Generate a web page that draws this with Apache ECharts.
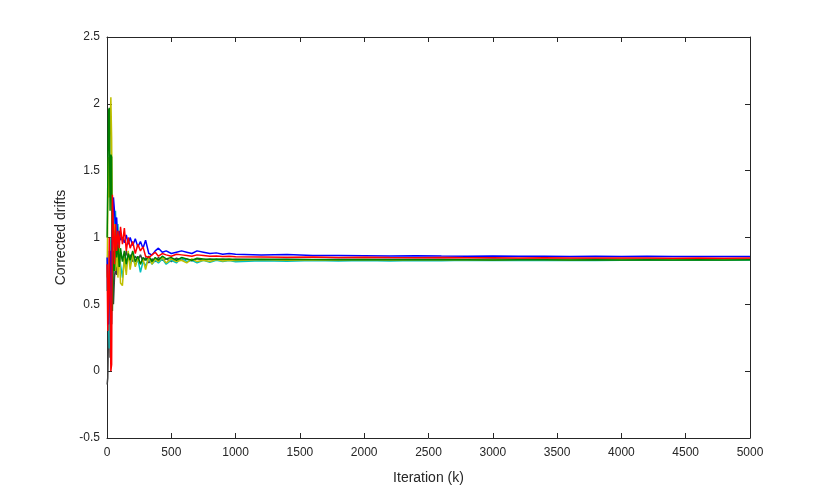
<!DOCTYPE html>
<html>
<head>
<meta charset="utf-8">
<script src="https://cdn.jsdelivr.net/npm/echarts@6/dist/echarts.min.js"></script>
<style>
  html, body { margin: 0; padding: 0; background: #fff; }
  #chart { width: 830px; height: 493px; }
</style>
</head>
<body>
<div id="chart"></div>
<script>
  // iteration index for every sampled point
  var iters = [1, 6, 12, 18, 24, 30, 36, 42, 50, 58, 66, 75, 85, 95, 105, 120, 135, 150, 165, 180,
    200, 220, 240, 260, 280, 300, 325, 350, 375, 400, 430, 460, 500, 540, 580, 620, 660, 700, 750, 800,
    850, 900, 950, 1000, 1200, 1400, 1600, 1800, 2000, 2200, 2400, 2600, 2800, 3000, 3200, 3400, 3600, 3800,
    4000, 4200, 4400, 4600, 4800, 5000]

  var grayDrift = [-0.1, -0.05, 0.3, 0.6, 0.1, 0.5, 0.35, 0.8, 0.5, 0.7, 0.78, 0.72, 0.85, 0.8, 0.88, 0.84, 0.82, 0.9, 0.84, 0.87,
    0.82, 0.86, 0.83, 0.87, 0.82, 0.85, 0.81, 0.84, 0.82, 0.85, 0.83, 0.84, 0.82, 0.845, 0.83, 0.84, 0.825, 0.84, 0.83, 0.84,
    0.832, 0.838, 0.83, 0.837, 0.833, 0.837, 0.834, 0.837, 0.835, 0.838, 0.836, 0.838, 0.836, 0.839, 0.837, 0.838, 0.837, 0.839,
    0.838, 0.837, 0.839, 0.838, 0.837, 0.838]

  var cyanDrift = [0.6, 0.9, 0.4, 0.17, 0.7, 1.0, 0.8, 1.1, 1.22, 1.05, 1.2, 0.95, 1.1, 0.85, 0.8, 0.7, 0.85, 0.78, 0.88, 0.8,
    0.86, 0.79, 0.84, 0.74, 0.82, 0.79, 0.84, 0.8, 0.83, 0.81, 0.84, 0.8, 0.83, 0.81, 0.85, 0.82, 0.83, 0.81, 0.83, 0.815,
    0.83, 0.82, 0.828, 0.818, 0.826, 0.822, 0.828, 0.825, 0.827, 0.824, 0.828, 0.826, 0.829, 0.827, 0.829, 0.828, 0.83, 0.828,
    0.83, 0.829, 0.83, 0.829, 0.831, 0.83]

  var yellowDrift = [0.7, 1.2, 1.6, 1.3, 1.8, 2.05, 1.75, 1.0, 0.8, 1.1, 0.75, 1.0, 0.7, 0.95, 0.66, 0.64, 0.85, 0.72, 0.9, 0.76,
    0.88, 0.78, 0.85, 0.8, 0.84, 0.76, 0.86, 0.8, 0.84, 0.82, 0.85, 0.81, 0.84, 0.82, 0.83, 0.81, 0.84, 0.82, 0.83, 0.82,
    0.835, 0.825, 0.83, 0.828, 0.835, 0.83, 0.834, 0.831, 0.835, 0.832, 0.834, 0.833, 0.836, 0.834, 0.835, 0.836, 0.834, 0.835,
    0.836, 0.835, 0.836, 0.835, 0.836, 0.836]

  var greenDrift = [1.0, 1.4, 1.95, 1.97, 1.2, 1.62, 1.6, 0.45, 0.9, 0.75, 1.05, 0.85, 0.95, 0.78, 0.92, 0.82, 0.9, 0.8, 0.88, 0.83,
    0.9, 0.82, 0.86, 0.8, 0.85, 0.83, 0.86, 0.82, 0.85, 0.83, 0.86, 0.84, 0.85, 0.83, 0.85, 0.84, 0.83, 0.845, 0.84, 0.835,
    0.84, 0.837, 0.84, 0.836, 0.838, 0.835, 0.836, 0.834, 0.836, 0.834, 0.835, 0.833, 0.834, 0.832, 0.834, 0.833, 0.832, 0.834,
    0.832, 0.833, 0.832, 0.833, 0.832, 0.833]

  var blueDrift = [0.85, 0.6, 0.35, 0.55, 0.9, 0.45, 0.8, 1.05, 1.3, 1.2, 1.1, 1.15, 0.95, 1.05, 0.98, 1.0, 0.96, 1.02, 0.95, 1.0,
    0.94, 0.99, 0.93, 0.97, 0.92, 0.98, 0.88, 0.87, 0.9, 0.92, 0.89, 0.9, 0.88, 0.89, 0.9, 0.89, 0.88, 0.9, 0.89, 0.88,
    0.885, 0.875, 0.88, 0.875, 0.87, 0.872, 0.866, 0.865, 0.864, 0.862, 0.863, 0.861, 0.86, 0.861, 0.859, 0.86, 0.858, 0.859,
    0.858, 0.859, 0.857, 0.858, 0.857, 0.858]

  var redDrift = [0.8, 0.3, 0.55, 1.0, 0.6, 0.0, 0.05, 1.32, 1.05, 0.8, 1.1, 0.9, 1.05, 0.92, 1.08, 0.95, 1.07, 0.9, 1.0, 0.92,
    0.97, 0.88, 0.95, 0.9, 0.93, 0.86, 0.85, 0.87, 0.89, 0.86, 0.88, 0.87, 0.86, 0.875, 0.87, 0.865, 0.86, 0.87, 0.865, 0.86,
    0.862, 0.858, 0.86, 0.856, 0.855, 0.853, 0.854, 0.851, 0.852, 0.85, 0.849, 0.85, 0.848, 0.849, 0.847, 0.848, 0.846, 0.847,
    0.846, 0.847, 0.845, 0.846, 0.845, 0.846]

  var xTicks = { min: 0, max: 5000, interval: 500 }
  var yTicks = { min: -0.5, max: 2.5, interval: 0.5 }

  var axisColor = '#262626'

  function makeLine (name, values, color) {
    return {
      name: name,
      type: 'line',
      showSymbol: false,
      symbol: 'none',
      animation: false,
      lineStyle: { color: color, width: 1.5 },
      data: iters.map(function (x, i) { return [x, values[i]] })
    }
  }

  function plain (v) {
    return String(v)
  }

  var chart = echarts.init(document.getElementById('chart'))
  var option = {
    backgroundColor: '#ffffff',
    animation: false,
    grid: { left: 107, right: 80, top: 37, bottom: 55 },
    xAxis: [
      {
        type: 'value',
        min: xTicks.min,
        max: xTicks.max,
        interval: xTicks.interval,
        name: 'Iteration (k)',
        nameLocation: 'middle',
        nameGap: 33,
        nameTextStyle: { fontFamily: 'Liberation Sans', fontSize: 14, color: axisColor },
        axisLine: { onZero: false, lineStyle: { color: axisColor, width: 1 } },
        axisTick: { inside: true, length: 5, lineStyle: { color: axisColor } },
        axisLabel: { fontFamily: 'Liberation Sans', fontSize: 12, color: axisColor, margin: 9, formatter: plain },
        splitLine: { show: false }
      },
      {
        type: 'value',
        position: 'top',
        min: xTicks.min,
        max: xTicks.max,
        interval: xTicks.interval,
        axisLine: { onZero: false, lineStyle: { color: axisColor, width: 1 } },
        axisTick: { inside: true, length: 5, lineStyle: { color: axisColor } },
        axisLabel: { show: false },
        splitLine: { show: false }
      }
    ],
    yAxis: [
      {
        type: 'value',
        min: yTicks.min,
        max: yTicks.max,
        interval: yTicks.interval,
        name: 'Corrected drifts',
        nameLocation: 'middle',
        nameGap: 32,
        nameTextStyle: { fontFamily: 'Liberation Sans', fontSize: 14, color: axisColor },
        axisLine: { show: true, onZero: false, lineStyle: { color: axisColor, width: 1 } },
        axisTick: { show: true, inside: true, length: 5, lineStyle: { color: axisColor } },
        axisLabel: { fontFamily: 'Liberation Sans', fontSize: 12, color: axisColor, margin: 7, formatter: plain },
        splitLine: { show: false }
      },
      {
        type: 'value',
        position: 'right',
        min: yTicks.min,
        max: yTicks.max,
        interval: yTicks.interval,
        axisLine: { show: true, onZero: false, lineStyle: { color: axisColor, width: 1 } },
        axisTick: { show: true, inside: true, length: 5, lineStyle: { color: axisColor } },
        axisLabel: { show: false },
        splitLine: { show: false }
      }
    ],
    series: [
      makeLine('gray', grayDrift, '#404040'),
      makeLine('cyan', cyanDrift, '#00bfbf'),
      makeLine('yellow', yellowDrift, '#bfbf00'),
      makeLine('green', greenDrift, '#008000'),
      makeLine('blue', blueDrift, '#0000ff'),
      makeLine('red', redDrift, '#ff0000')
    ]
  }
  chart.setOption(option)
</script>
</body>
</html>
